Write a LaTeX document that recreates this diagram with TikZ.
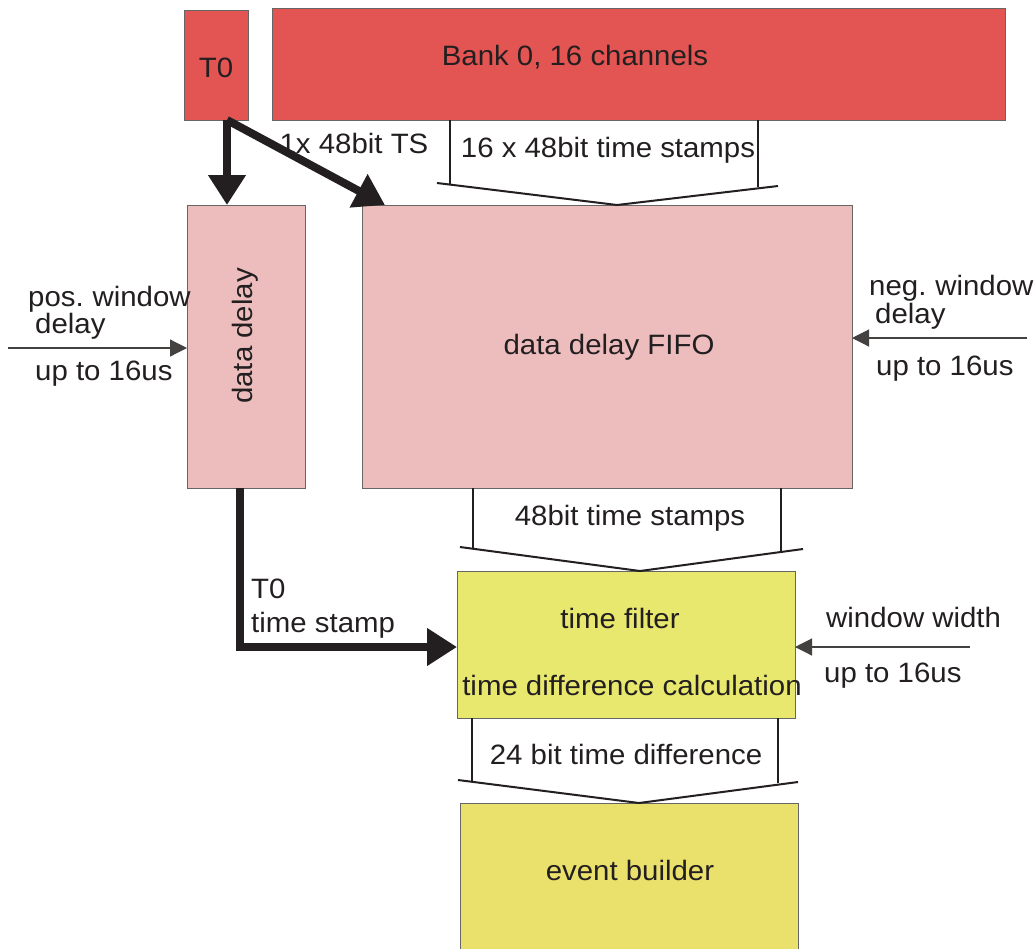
\documentclass[tikz,border=0pt]{standalone}
\usepackage{fontspec}
\setmainfont[FakeStretch=1.05]{Liberation Sans}
\usetikzlibrary{arrows.meta,calc}
\definecolor{bankred}{RGB}{227,85,83}
\definecolor{pinkbox}{RGB}{237,189,190}
\definecolor{yelbox}{RGB}{232,232,111}
\definecolor{yelboxb}{RGB}{234,224,108}
\definecolor{ink}{RGB}{35,31,32}
\begin{document}
\begin{tikzpicture}[x=1pt,y=-1pt,
  blk/.style={draw=black!60, line width=0.9pt, inner sep=0pt, outer sep=0pt},
  lbl/.style={inner sep=0pt, font=\fontsize{28}{30}\selectfont, text=ink},
  bus/.style={draw=ink, line width=2.2pt},
  chev/.style={draw=ink, line width=2pt, line join=miter},
  fatarrow/.style={draw=ink, line width=8pt, line join=miter, -{Triangle[length=30pt,width=36pt]}},
  thinarrow/.style={draw=ink!85, line width=1.2pt, -{Triangle[length=17pt,width=17pt]}}]
\useasboundingbox (0,0) rectangle (1035,948);
\clip (0,0) rectangle (1035,948);
\fill[white] (0,0) rectangle (1035,948);

% boxes
\node[blk, fill=bankred, minimum width=64pt, minimum height=110pt] (t0) at (216,65) {};
\node[blk, fill=bankred, minimum width=733pt, minimum height=112pt] (bank) at (638.5,64) {};
\node[blk, fill=pinkbox, minimum width=118pt, minimum height=283pt] (dd) at (246,346.5) {};
\node[blk, fill=pinkbox, minimum width=490pt, minimum height=283pt] (fifo) at (607,346.5) {};
\node[blk, fill=yelbox, minimum width=338pt, minimum height=147pt] (filter) at (626,644.5) {};
\node[blk, fill=yelboxb, minimum width=338pt, minimum height=160pt] (builder) at (629,883) {};

% box texts
\node[lbl, anchor=base] (t0txt) at (216,77) {T0};
\node[lbl, anchor=base] (banktxt) at (575,65) {Bank 0, 16 channels};
\node[lbl, rotate=90] (ddtxt) at (245,336) {data delay};
\node[lbl, anchor=base] (fifotxt) at (609,354) {data delay FIFO};
\node[lbl, anchor=base] (filtxt1) at (620,628) {time filter};
\node[lbl, anchor=base] (filtxt2) at (632,695) {time difference calculation};
\node[lbl, anchor=base] (ebtxt) at (630,880) {event builder};

% bus: bank -> fifo
\coordinate (b1) at (450,120);
\coordinate (b2) at (758,120);
\draw[bus] (b1) -- (450,184);
\draw[bus] (b2) -- (758,187);
\draw[chev] (437,183) -- (fifo.north -| 617,0) -- (778,186);
\node[lbl, anchor=base] (l16) at (608,157) {16 x 48bit time stamps};

% bus: fifo -> filter
\coordinate (f1) at (473,488);
\coordinate (f2) at (781,488);
\draw[bus] (f1) -- (473,548);
\draw[bus] (f2) -- (781,551);
\draw[chev] (460,547) -- (filter.north -| 640,0) -- (803,549);
\node[lbl, anchor=base] (l48) at (630,525) {48bit time stamps};

% bus: filter -> builder
\coordinate (g1) at (472,718);
\coordinate (g2) at (778,718);
\draw[bus] (g1) -- (472,781);
\draw[bus] (g2) -- (778,783);
\draw[chev] (458,780) -- (builder.north -| 639,0) -- (798,782);
\node[lbl, anchor=base] (l24) at (626,764) {24 bit time difference};

% T0 thick arrows
\coordinate (t0out) at (227,120);
\draw[fatarrow] (t0out) -- (t0out |- dd.north);
\draw[fatarrow] (t0out) -- ($(fifo.north west)+(23,0)$);
\node[lbl, anchor=base] (l1x) at (354,153) {1x 48bit TS};

% T0 time stamp arrow
\draw[fatarrow] ($(dd.south)+(-6,0)$) |- (filter.west |- 0,647);
\node[lbl, anchor=base west] (lt0a) at (251,598) {T0};
\node[lbl, anchor=base west] (lt0b) at (251,632) {time stamp};

% pos. window delay
\coordinate (pw) at (8,348);
\draw[thinarrow] (pw) -- (dd.west |- pw);
\node[lbl, anchor=base west] (pw1) at (28,306) {pos.\hspace{-2pt} window};
\node[lbl, anchor=base west] (pw2) at (35,333) {delay};
\node[lbl, anchor=base west] (pw3) at (35,380) {up to 16us};

% neg. window delay
\coordinate (nw) at (1027,338);
\draw[thinarrow] (nw) -- (fifo.east |- nw);
\node[lbl, anchor=base west] (nw1) at (869,295) {neg.\hspace{-2pt} window};
\node[lbl, anchor=base west] (nw2) at (875,323) {delay};
\node[lbl, anchor=base west] (nw3) at (876,375) {up to 16us};

% window width
\coordinate (ww) at (970,647);
\draw[thinarrow] (ww) -- (filter.east |- ww);
\node[lbl, anchor=base west] (ww1) at (826,627) {window width};
\node[lbl, anchor=base west] (ww2) at (824,682) {up to 16us};
\end{tikzpicture}
\end{document}
